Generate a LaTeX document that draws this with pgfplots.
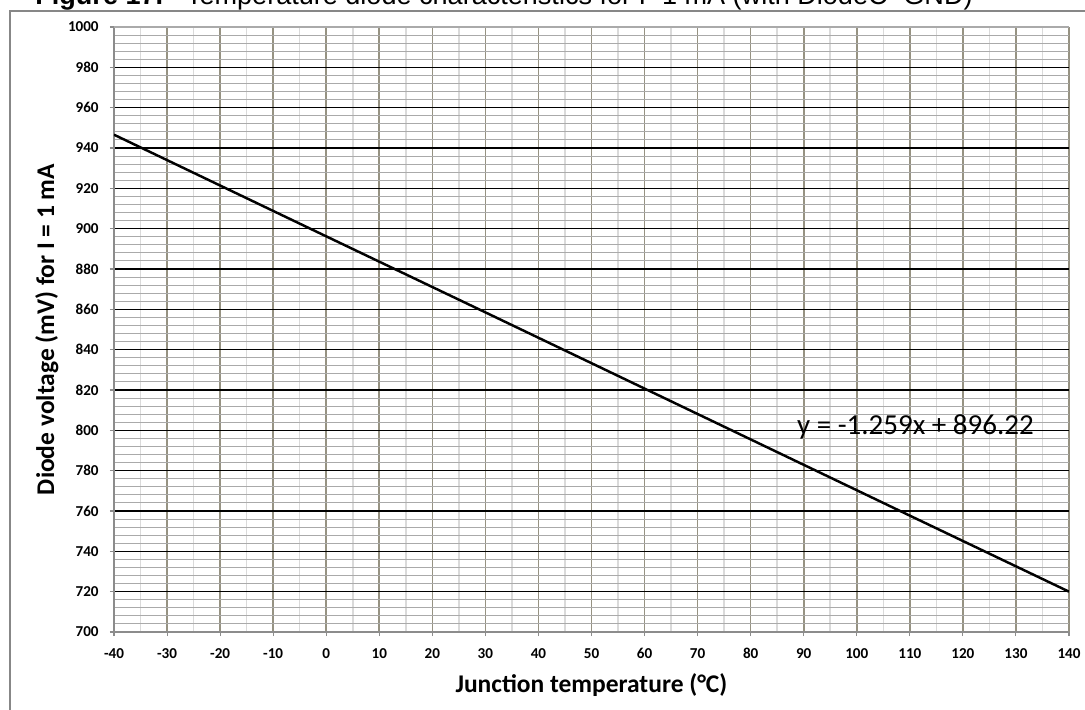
\documentclass[border=0pt]{standalone}
\usepackage{fontspec}
\setmainfont{Carlito}
\newfontfamily\arialfont{Liberation Sans}
\usepackage{pgfplots}
\pgfplotsset{compat=1.18}
\definecolor{vmaj}{RGB}{150,146,130}
\definecolor{vmin}{RGB}{218,218,218}
\definecolor{hmin}{RGB}{170,170,170}
\definecolor{axisgray}{RGB}{140,140,140}
\definecolor{framegray}{RGB}{135,135,135}
\begin{document}
\begin{tikzpicture}
\path[use as bounding box] (-2.28,-1.56) rectangle (19.42,12.64);
\begin{axis}[
    at={(0,0)}, anchor=south west,
    scale only axis,
    width=19.1cm, height=12.1cm,
    xmin=-40, xmax=140,
    ymin=700, ymax=1000,
    xtick={-40,-30,...,140},
    ytick={700,720,...,980},
    extra y ticks={1000},
    extra y tick style={major y grid style={color=hmin, line width=0.6pt}},
    minor xtick={-35,-25,...,135},
    minor ytick={704,708,...,996},
    grid=both,
    major x grid style={color=vmaj, line width=0.9pt},
    minor x grid style={color=vmin, line width=0.9pt},
    major y grid style={color=black, line width=0.6pt},
    minor y grid style={color=hmin, line width=0.6pt},
    axis lines*=left,
    axis line style={color=axisgray, line width=0.8pt},
    tick align=outside,
    major tick length=0.08cm,
    minor tick length=0pt,
    tick style={color=axisgray, line width=0.6pt},
    /pgf/number format/assume math mode=true,
    /pgf/number format/1000 sep={},
    ticklabel style={font=\fontsize{8.6}{10}\selectfont\bfseries, inner sep=0pt},
    yticklabel style={xshift=-0.22cm},
    xticklabel style={yshift=-0.24cm},
    xlabel={Junction temperature (°C)},
    ylabel={Diode voltage (mV) for I = 1 mA},
    label style={font=\fontsize{14.5}{17}\selectfont\bfseries},
    xlabel style={at={(axis description cs:0.5,-0.0992)}, anchor=base, inner sep=0pt},
    ylabel style={at={(axis description cs:-0.0702,0.5)}, anchor=center, inner sep=0pt},
]
\addplot[black, line width=1.4pt] coordinates {
    (-40,946.6) (0,896.2) (30,858.5) (70,808.1) (110,757.7) (140,720.0)
};
\node[anchor=base west, inner sep=0pt, font=\fontsize{16.5}{19}\selectfont]
    at (axis cs:88.7,797.7) {y = -1.259x + 896.22};
\end{axis}
\draw[color=framegray, line width=1pt] (-2.08,-1.56) -- (-2.08,12.42) -- (19.42,12.42);
\node[anchor=base west, inner sep=0pt, font=\arialfont\fontsize{15.4}{18}\selectfont\bfseries]
    at (-1.58,12.54) {Figure 17.};
\node[anchor=base east, inner sep=0pt, font=\arialfont\fontsize{15.4}{18}\selectfont]
    at (17.18,12.54) {Temperature diode characteristics for I=1 mA (with DiodeC=GND)};
\end{tikzpicture}
\end{document}
